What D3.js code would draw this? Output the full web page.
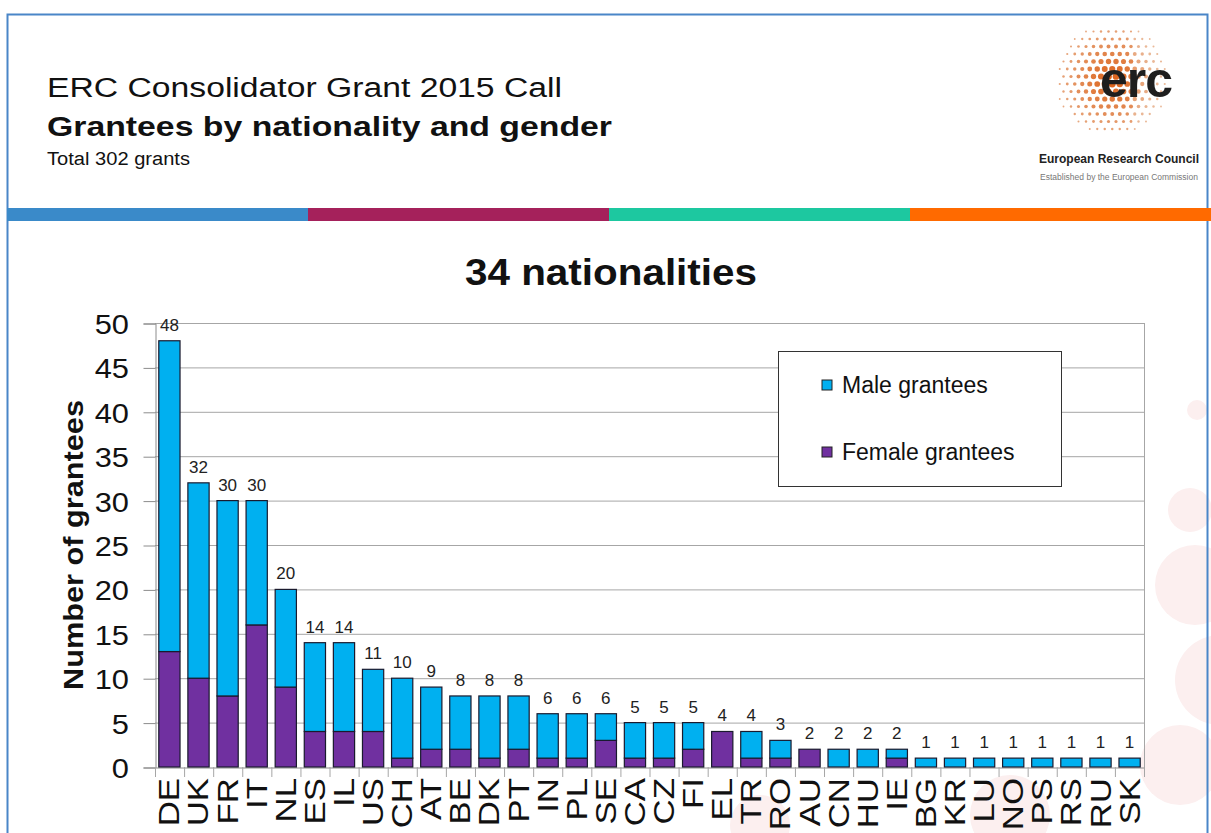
<!DOCTYPE html>
<html>
<head>
<meta charset="utf-8">
<script src="https://cdn.jsdelivr.net/npm/d3@7"></script>
<style>
  body { margin: 0; background: #fff; }
  svg { display: block; font-family: "Liberation Sans", Arial, sans-serif; }
</style>
</head>
<body>
<svg id="chart" width="1211" height="833"></svg>
<script>
// data
var countries = ["DE","UK","FR","IT","NL","ES","IL","US","CH","AT","BE","DK","PT","IN","PL","SE","CA","CZ","FI","EL","TR","RO","AU","CN","HU","IE","BG","KR","LU","NO","PS","RS","RU","SK"];
var totals  = [48,32,30,30,20,14,14,11,10,9,8,8,8,6,6,6,5,5,5,4,4,3,2,2,2,2,1,1,1,1,1,1,1,1];
var female  = [13,10,8,16,9,4,4,4,1,2,2,1,2,1,1,3,1,1,2,4,1,1,2,0,0,1,0,0,0,0,0,0,0,0];
var yTicks  = [0,5,10,15,20,25,30,35,40,45,50];
var seriesNames = ["Male grantees", "Female grantees"];
var seriesColors = ["#00b0f0", "#7030a0"];
var stripeColors = ["#3a8ac9", "#a5215b", "#1dc8a0", "#ff6a00"];

var svg = d3.select("#chart");

// faint background circles
var bgCircles = [[1197,410,10],[1190,510,22],[1195,585,40],[1220,680,45],[1180,765,40],[760,825,30],[1010,815,40]];
svg.append("g").selectAll("circle").data(bgCircles).enter().append("circle")
    .attr("cx", function(d){ return d[0]; })
    .attr("cy", function(d){ return d[1]; })
    .attr("r", function(d){ return d[2]; })
    .attr("fill", "#fcefef");

// slide frame
svg.append("rect").attr("x", 7.5).attr("y", 14.5).attr("width", 1200).attr("height", 830)
    .attr("fill", "none").attr("stroke", "#4a86c8").attr("stroke-width", 2);

// colour stripe
var stripeX = d3.scaleBand().domain(d3.range(4)).range([7, 1211]);
svg.append("g").selectAll("rect").data(stripeColors).enter().append("rect")
    .attr("x", function(d,i){ return stripeX(i); })
    .attr("y", 208).attr("height", 13)
    .attr("width", stripeX.bandwidth())
    .attr("fill", function(d){ return d; });

// text with a fixed width, the slide text is a bit stretched
function fitText(g, txt, xx, yy, size, len, bold) {
  return g.append("text").attr("x", xx).attr("y", yy).attr("font-size", size)
    .attr("font-weight", bold ? "bold" : "normal").attr("fill", "#111")
    .attr("textLength", len).attr("lengthAdjust", "spacingAndGlyphs")
    .text(txt);
}

// header
fitText(svg, "ERC Consolidator Grant 2015 Call", 47, 97, 27, 515, false);
fitText(svg, "Grantees by nationality and gender", 47, 136, 28, 565, true);
fitText(svg, "Total 302 grants", 47, 165, 18, 143, false);

// logo: dotted sunburst
var logo = svg.append("g");
var lcx = 1112, lcy = 80, lr = 56;
for (var gx = -lr; gx <= lr; gx += 7.5) {
  for (var gy = -lr; gy <= lr; gy += 7.5) {
    var ox = gx + ((Math.round(gy / 7.5) % 2) ? 3.75 : 0);
    var dd = Math.sqrt(ox*ox + gy*gy);
    if (dd > lr) continue;
    var t = dd / lr;
    var side = ox > 20 ? 0.3 : 0;
    logo.append("circle")
      .attr("cx", lcx + ox).attr("cy", lcy + gy)
      .attr("r", Math.max(0.7, 3.6 * (1 - t*0.75)))
      .attr("fill", d3.interpolateRgb("#dc5f15", "#eab998")(Math.min(1, t*0.85 + side)));
  }
}
logo.append("text").attr("x", 1100).attr("y", 97)
    .attr("font-size", 50).attr("font-weight", "bold").attr("fill", "#1e1e1e").attr("letter-spacing", -1)
    .text("erc");
logo.append("text").attr("x", 1119).attr("y", 163).attr("text-anchor", "middle")
    .attr("font-size", 12).attr("font-weight", "bold").attr("fill", "#222")
    .text("European Research Council");
logo.append("text").attr("x", 1119).attr("y", 180).attr("text-anchor", "middle")
    .attr("font-size", 8.5).attr("fill", "#777")
    .text("Established by the European Commission");

// chart
var x0 = 155, x1 = 1144, yTop = 323, yBottom = 767;
var x = d3.scaleBand().domain(countries).range([x0, x1]).paddingInner(0.27).paddingOuter(0.13);
var y = d3.scaleLinear().domain([0, 50]).range([yBottom, yTop]);

fitText(svg, "34 nationalities", 465, 285, 37, 292, true);

// grid
svg.append("g").selectAll("line").data(yTicks.slice(1)).enter().append("line")
    .attr("x1", x0).attr("x2", x1)
    .attr("y1", function(d){ return y(d) + 0.5; })
    .attr("y2", function(d){ return y(d) + 0.5; })
    .attr("stroke", "#a6a6a6").attr("stroke-width", 1);
svg.append("line").attr("x1", x1 + 0.5).attr("x2", x1 + 0.5).attr("y1", yTop).attr("y2", yBottom)
    .attr("stroke", "#a6a6a6");

// y axis
var yAxis = svg.append("g").attr("transform", "translate(" + (x0 + 0.5) + ",0.5)")
    .call(d3.axisLeft(y).tickValues(yTicks).tickSize(12).tickFormat(""));
yAxis.select(".domain").attr("stroke", "#8c8c8c");
yAxis.selectAll(".tick line").attr("stroke", "#8c8c8c");
svg.append("g").selectAll("text").data(yTicks).enter().append("text")
    .attr("transform", function(d){ return "translate(129," + (y(d) + 1) + ") scale(1.1,1)"; })
    .attr("text-anchor", "end").attr("dy", "0.36em")
    .attr("font-size", 28).attr("fill", "#111")
    .text(function(d){ return d; });

svg.append("text").attr("transform", "translate(83,545) rotate(-90)").attr("text-anchor", "middle")
    .attr("font-size", 28).attr("font-weight", "bold").attr("fill", "#111")
    .attr("textLength", 290).attr("lengthAdjust", "spacingAndGlyphs")
    .text("Number of grantees");

// x axis
var xAxis = svg.append("g").attr("transform", "translate(0," + (yBottom + 0.5) + ")")
    .call(d3.axisBottom(x).tickSize(0).tickFormat(""));
xAxis.select(".domain").attr("stroke", "#8c8c8c");
// category separators
svg.append("g").selectAll("line").data(d3.range(countries.length + 1)).enter().append("line")
    .attr("x1", function(i){ return x0 + i * (x1 - x0) / countries.length + 0.5; })
    .attr("x2", function(i){ return x0 + i * (x1 - x0) / countries.length + 0.5; })
    .attr("y1", yBottom).attr("y2", yBottom + 10)
    .attr("stroke", "#a6a6a6");
svg.append("g").selectAll("text").data(countries).enter().append("text")
    .attr("transform", function(d){ return "translate(" + (x(d) + x.bandwidth()/2 + 10) + "," + (yBottom + 11) + ") rotate(-90) scale(1.2,1)"; })
    .attr("text-anchor", "end")
    .attr("font-size", 29).attr("fill", "#111")
    .text(function(d){ return d; });

// stacked bars
var rows = countries.map(function(c, i){ return {c: c, female: female[i], male: totals[i] - female[i], total: totals[i]}; });
var stack = d3.stack().keys(["female", "male"])(rows);
var colorFor = {female: seriesColors[1], male: seriesColors[0]};
svg.append("g").selectAll("g").data(stack).enter().append("g")
    .attr("fill", function(s){ return colorFor[s.key]; })
    .selectAll("rect").data(function(s){ return s.filter(function(d){ return d[1] > d[0]; }); }).enter().append("rect")
    .attr("x", function(d){ return x(d.data.c); })
    .attr("y", function(d){ return y(d[1]); })
    .attr("width", x.bandwidth())
    .attr("height", function(d){ return y(d[0]) - y(d[1]); })
    .attr("stroke", "#1a1a2e").attr("stroke-width", 1.2);

// totals above bars
svg.append("g").selectAll("text").data(rows).enter().append("text")
    .attr("x", function(d){ return x(d.c) + x.bandwidth()/2; })
    .attr("y", function(d){ return y(d.total) - 10; })
    .attr("text-anchor", "middle").attr("font-size", 17).attr("fill", "#222")
    .text(function(d){ return d.total; });

// legend
var lg = svg.append("g");
lg.append("rect").attr("x", 778.5).attr("y", 351.5).attr("width", 283).attr("height", 135)
    .attr("fill", "#fff").attr("stroke", "#333");
lg.selectAll("g").data(seriesNames).enter().append("g")
    .attr("transform", function(d, i){ return "translate(822," + (385 + i * 67) + ")"; })
    .each(function(d, i){
      var g = d3.select(this);
      g.append("rect").attr("x", 0).attr("y", -5).attr("width", 10).attr("height", 10)
        .attr("fill", seriesColors[i]).attr("stroke", "#222");
      g.append("text").attr("x", 20).attr("y", 8).attr("font-size", 23).attr("fill", "#111").text(d);
    });
</script>
</body>
</html>
